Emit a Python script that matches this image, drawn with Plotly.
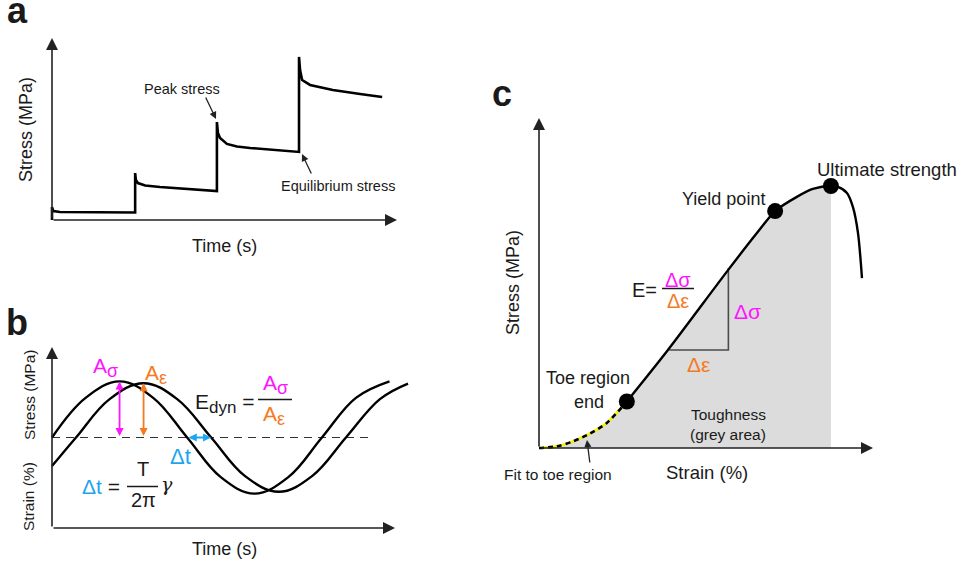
import plotly.graph_objects as go

W, H = 967, 565
FONT = "Liberation Sans, Arial, sans-serif"
INK = "#1a1a1a"
MAG = "#ff14ff"
ORG = "#f57a1e"
BLU = "#1ea5ee"
GREY_FILL = "#dcdcdc"

# ---------------- data ----------------
# Panel a: stepwise stress relaxation
a_time = [0, 0, 0.4, 2.3, 24.1,
          24.1, 24.3, 24.9, 27.0, 31.3, 38.0, 47.8,
          47.8, 48.1, 48.7, 50.7, 53.6, 57.4, 71.6,
          71.6, 71.9, 72.5, 74.8, 81.4, 89.3, 95.7]
a_stress = [0, 7.1, 4.9, 4.4, 4.1,
            25.8, 22.0, 20.3, 19.0, 18.1, 17.3, 15.9,
            53.8, 47.8, 45.1, 41.8, 40.4, 39.6, 37.4,
            89.6, 82.4, 76.9, 74.2, 71.4, 69.2, 67.6]

# Panel b: oscillatory stress and strain
b_t_stress = [0, 9.8, 19.7, 29.5, 39.4, 49.2, 59.0, 68.9, 78.7, 88.6, 98.4]
b_stress = [0, 21.9, 31, 21.9, 0, -21.9, -31, -21.9, 0, 21.9, 31]
b_t_strain = [0, 7.0, 16.8, 26.7, 36.5, 46.4, 56.2, 66.1, 75.9, 85.7, 95.6, 103.8]
b_strain = [-15.8, 0, 21.2, 30, 21.2, 0, -21.2, -30, -21.2, 0, 21.2, 29.8]
b_baseline_end = 92.7

# Panel c: tensile stress-strain curve
c_toe_x = [0, 5.3, 10.2, 15.3, 20.3, 26.3]
c_toe_y = [0, 0.5, 2.0, 4.4, 7.6, 14.1]
c_main_x = [26.3, 38.6, 56.6, 65.3, 70.7, 77.2, 82.0, 87.4, 89.5, 92.2, 94.0, 95.5, 96.7]
c_main_y = [14.1, 29.7, 53.9, 65.2, 71.8, 76.1, 78.5, 79.4, 79.1, 77.3, 73.0, 65.2, 51.5]
c_points_x = [26.3, 70.7, 87.4]   # toe end, yield, ultimate
c_points_y = [14.1, 71.8, 79.4]
c_slope_x = [39.0, 56.7, 56.7]
c_slope_y = [29.7, 29.7, 54.5]


# ---------------- geometry helpers ----------------
def dom_x(ox, sx, r):
    return [(ox + r[0] * sx) / W, (ox + r[1] * sx) / W]


def dom_y(oy, sy, r):
    return [1 - (oy - r[0] * sy) / H, 1 - (oy - r[1] * sy) / H]


def P(x, y):
    return x / W, 1 - y / H


fig = go.Figure()

ra_x, ra_y = [-2, 104], [-3, 104]
rb_x, rb_y = [-2, 106], [-53, 53]
rc_x, rc_y = [-2, 104], [-2, 104]

ax_common = dict(visible=False, fixedrange=True)
fig.update_layout(
    xaxis=dict(domain=dom_x(52, 3.45, ra_x), range=ra_x, anchor="y", **ax_common),
    yaxis=dict(domain=dom_y(220, 1.82, ra_y), range=ra_y, anchor="x", **ax_common),
    xaxis2=dict(domain=dom_x(52, 3.43, rb_x), range=rb_x, anchor="y2", **ax_common),
    yaxis2=dict(domain=dom_y(437.5, 1.81, rb_y), range=rb_y, anchor="x2", **ax_common),
    xaxis3=dict(domain=dom_x(539, 3.34, rc_x), range=rc_x, anchor="y3", **ax_common),
    yaxis3=dict(domain=dom_y(448, 3.30, rc_y), range=rc_y, anchor="x3", **ax_common),
)

# ---------- panel a traces ----------
fig.add_trace(go.Scatter(x=a_time, y=a_stress, mode="lines", xaxis="x", yaxis="y",
                         line=dict(color="black", width=2.6), hoverinfo="skip"))

# ---------- panel b traces ----------
fig.add_trace(go.Scatter(x=[0, b_baseline_end], y=[0, 0], mode="lines", xaxis="x2", yaxis="y2",
                         line=dict(color="#333", width=1.2, dash="8px,6px"), hoverinfo="skip"))
fig.add_trace(go.Scatter(x=b_t_stress, y=b_stress, mode="lines", xaxis="x2", yaxis="y2",
                         line=dict(color="black", width=2.4, shape="spline", smoothing=1.1),
                         hoverinfo="skip"))
fig.add_trace(go.Scatter(x=b_t_strain, y=b_strain, mode="lines", xaxis="x2", yaxis="y2",
                         line=dict(color="black", width=2.4, shape="spline", smoothing=1.1),
                         hoverinfo="skip"))

# ---------- panel c traces ----------
ult_i = c_main_x.index(c_points_x[2])
fill_x = c_toe_x[:-1] + c_main_x[:ult_i + 1]
fill_y = c_toe_y[:-1] + c_main_y[:ult_i + 1]
fig.add_trace(go.Scatter(x=fill_x, y=fill_y, mode="lines", xaxis="x3", yaxis="y3",
                         fill="tozeroy", fillcolor=GREY_FILL,
                         line=dict(width=0, color=GREY_FILL, shape="spline", smoothing=0.8),
                         hoverinfo="skip"))
fig.add_trace(go.Scatter(x=c_slope_x, y=c_slope_y, mode="lines", xaxis="x3", yaxis="y3",
                         line=dict(color="#4a4a4a", width=1.6), hoverinfo="skip"))
fig.add_trace(go.Scatter(x=c_main_x, y=c_main_y, mode="lines", xaxis="x3", yaxis="y3",
                         line=dict(color="black", width=2.4, shape="spline", smoothing=0.8),
                         hoverinfo="skip"))
fig.add_trace(go.Scatter(x=c_toe_x, y=c_toe_y, mode="lines", xaxis="x3", yaxis="y3",
                         line=dict(color="#f2f200", width=2.6, shape="spline", smoothing=0.8),
                         hoverinfo="skip"))
fig.add_trace(go.Scatter(x=c_toe_x, y=c_toe_y, mode="lines", xaxis="x3", yaxis="y3",
                         line=dict(color="black", width=2.6, shape="spline", smoothing=0.8,
                                   dash="5px,4px"),
                         hoverinfo="skip"))
fig.add_trace(go.Scatter(x=c_points_x, y=c_points_y, mode="markers", xaxis="x3", yaxis="y3",
                         marker=dict(color="black", size=16), hoverinfo="skip"))

# ---------------- annotations ----------------
ann = []


def axis_arrow(xr, yr, x0, y0, x1, y1):
    ann.append(dict(xref=xr, yref=yr, axref=xr, ayref=yr, x=x1, y=y1, ax=x0, ay=y0,
                    text="", showarrow=True, arrowhead=2, arrowsize=1.5, arrowwidth=1.6,
                    arrowcolor="#222"))


def data_arrow(xr, yr, x0, y0, x1, y1, color, both=False, size=0.9, width=1.8):
    d = dict(xref=xr, yref=yr, axref=xr, ayref=yr, x=x1, y=y1, ax=x0, ay=y0,
             text="", showarrow=True, arrowhead=2, arrowsize=size, arrowwidth=width,
             arrowcolor=color)
    if both:
        d.update(arrowside="end+start", startarrowhead=2, startarrowsize=size)
    ann.append(d)


def txt(x, y, s, size, color=INK, angle=0, xanchor="center", yanchor="middle", bold=False):
    px, py = P(x, y)
    if bold:
        s = "<b>" + s + "</b>"
    ann.append(dict(xref="paper", yref="paper", x=px, y=py, text=s, showarrow=False,
                    textangle=angle, xanchor=xanchor, yanchor=yanchor,
                    font=dict(size=size, color=color, family=FONT)))


def sub(main, s, size):
    return "%s<sub><span style='font-size:%.1fpx'>%s</span></sub>" % (main, size, s)


def pointer(x0, y0, x1, y1):
    px1, py1 = P(x1, y1)
    ann.append(dict(xref="paper", yref="paper", x=px1, y=py1, ax=x0 - x1, ay=y0 - y1,
                    text="", showarrow=True, arrowhead=2, arrowsize=1.1, arrowwidth=1.3,
                    arrowcolor="#222"))


def hline(x0, x1, y, color=INK, width=1.5):
    a0, b0 = P(x0, y)
    a1, _ = P(x1, y)
    fig.add_shape(type="line", xref="paper", yref="paper", x0=a0, x1=a1, y0=b0, y1=b0,
                  line=dict(color=color, width=width))


# axes arrows
axis_arrow("x", "y", 0, 0, 100, 0)
axis_arrow("x", "y", 0, 0, 0, 100)
axis_arrow("x2", "y2", 0, -50, 100, -50)
axis_arrow("x2", "y2", 0, -50, 0, 50)
axis_arrow("x3", "y3", 0, 0, 100, 0)
axis_arrow("x3", "y3", 0, 0, 0, 100)

# panel a text
txt(17, 11, "a", 36, bold=True)
txt(26, 130, "Stress (MPa)", 18, angle=-90)
txt(224, 246, "Time (s)", 18)
txt(182, 89, "Peak stress", 14.5)
pointer(205, 96, 216, 119)
txt(338, 186, "Equilibrium stress", 14.5)
pointer(312, 175, 302, 154)

# panel b
txt(17, 322, "b", 36, bold=True)
txt(29, 395, "Stress (MPa)", 15.5, angle=-90)
txt(29, 497, "Strain (%)", 15.5, angle=-90)
txt(224, 549, "Time (s)", 18)
data_arrow("x2", "y2", b_t_stress[2], 0, b_t_stress[2], b_stress[2], MAG, both=True)
data_arrow("x2", "y2", b_t_strain[3], 0, b_t_strain[3], b_strain[3], ORG, both=True)
data_arrow("x2", "y2", b_t_stress[4], 0, b_t_strain[5], 0, BLU, both=True)
txt(105, 367, sub("A", "σ", 18), 21, color=MAG)
txt(156, 374, sub("A", "ε", 18), 21, color=ORG)
txt(180, 457, "Δt", 22, color=BLU)
txt(225, 403, sub("E", "dyn", 17) + " =", 21)
txt(275, 385, sub("A", "σ", 18), 21, color=MAG)
hline(258, 292, 399.5)
txt(274, 415, sub("A", "ε", 18), 21, color=ORG)
txt(101, 486, "<span style='color:%s'>Δt</span> =" % BLU, 21)
txt(143, 468.5, "T", 20)
hline(127, 158, 486.5)
txt(143.5, 499.5, "2π", 20)
txt(167, 484, "<span style='font-family:DejaVu Serif'><i>γ</i></span>", 19)

# panel c
txt(502, 93, "c", 36, bold=True)
txt(513, 283, "Stress (MPa)", 18, angle=-90)
txt(707, 473, "Strain (%)", 18.5)
txt(887, 169, "Ultimate strength", 18.5)
txt(723, 199, "Yield point", 18)
txt(588, 378, "Toe region", 18)
txt(589, 402, "end", 18)
txt(728, 414, "Toughness", 15.5)
txt(728, 434, "(grey area)", 15.5)
txt(557.5, 474, "Fit to toe region", 15.5)
pointer(590, 464, 587, 440)
txt(644, 290, "E=", 20)
txt(678, 279.5, "Δσ", 20, color=MAG)
hline(662, 694, 288.5)
txt(677.5, 301, "Δε", 20, color=ORG)
txt(747, 311, "Δσ", 21, color=MAG)
txt(698.5, 364, "Δε", 21, color=ORG)

fig.update_layout(
    width=W, height=H, autosize=False,
    margin=dict(l=0, r=0, t=0, b=0),
    paper_bgcolor="white", plot_bgcolor="white",
    showlegend=False, annotations=ann,
)

fig.write_html("out.html", config={"displayModeBar": False},
               post_script="document.body.style.margin='0';document.body.style.padding='0';")
